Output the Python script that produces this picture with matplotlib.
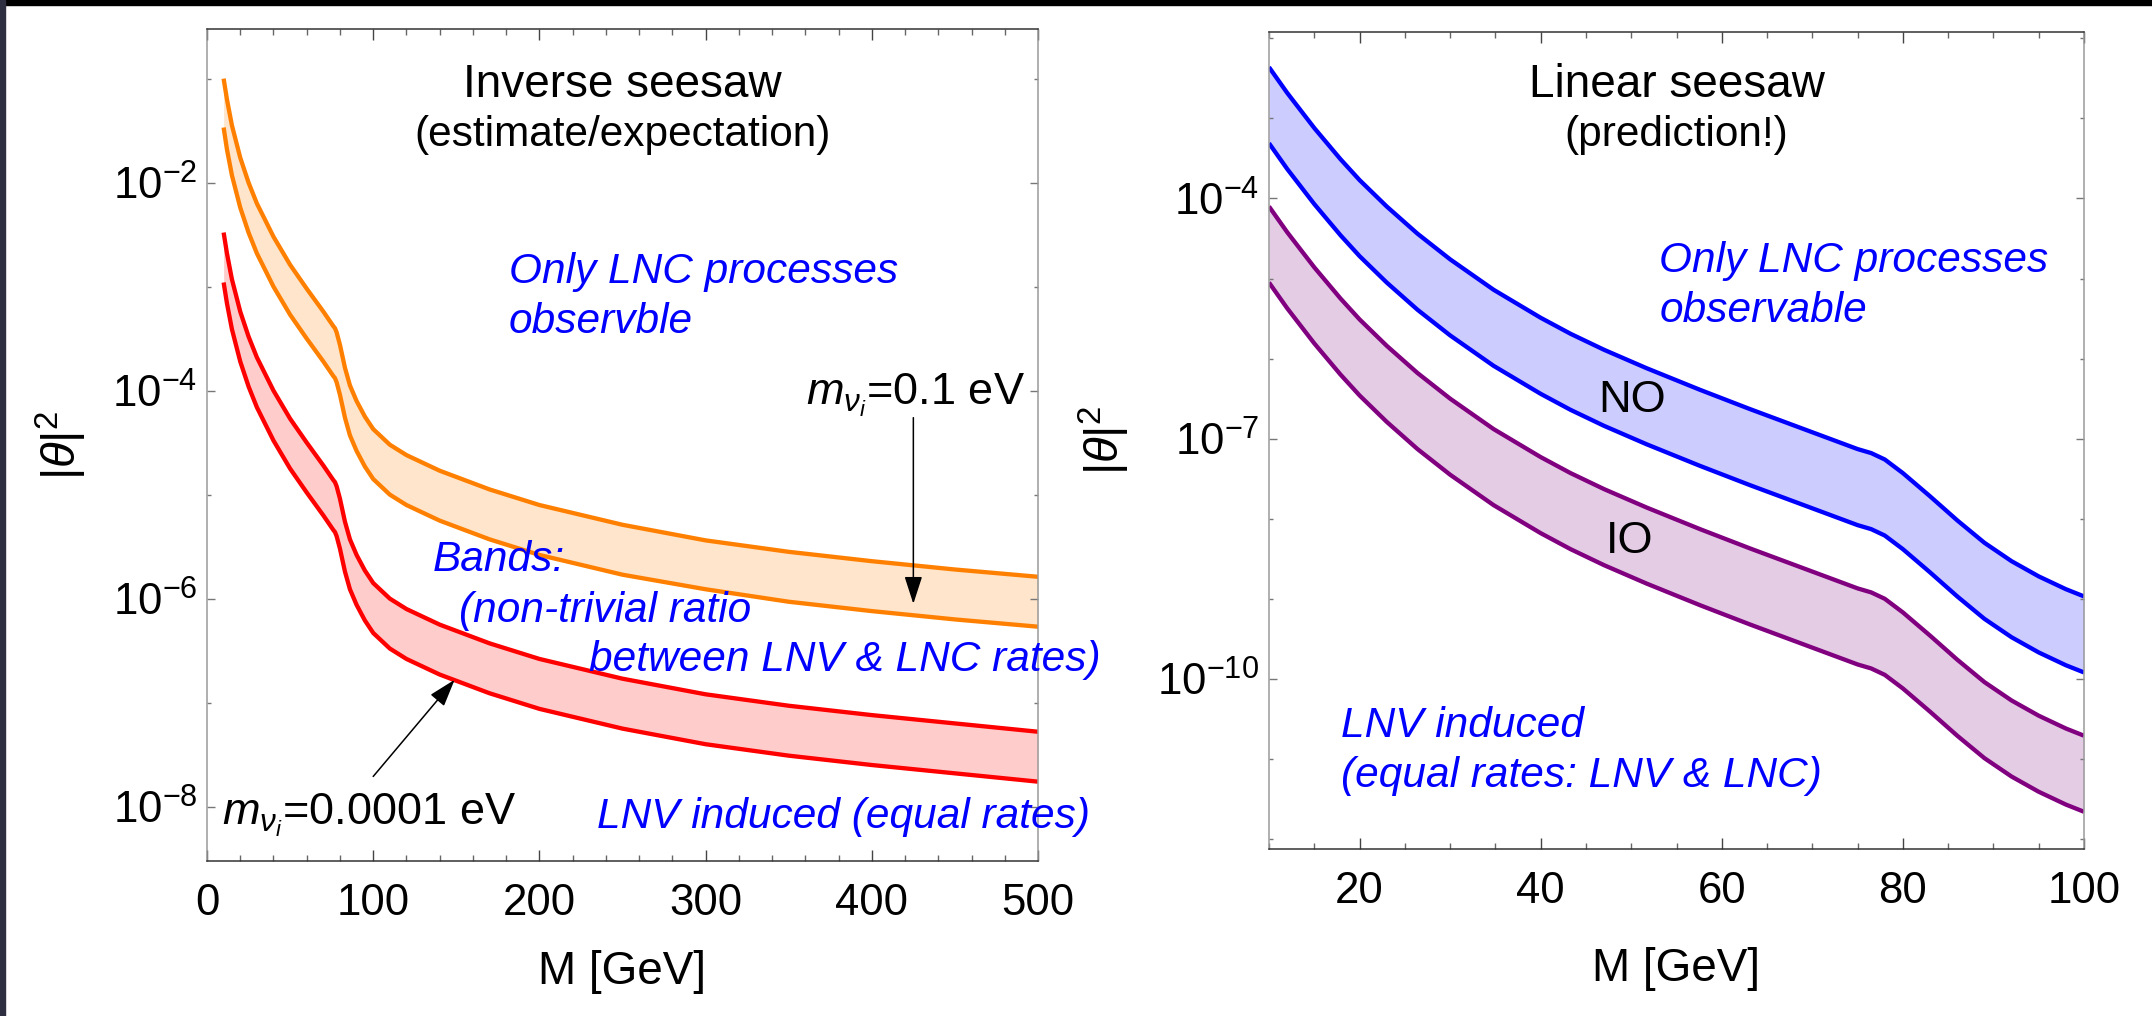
import numpy as np
import matplotlib
matplotlib.use('Agg')
import matplotlib.pyplot as plt
from matplotlib.ticker import FixedLocator, FuncFormatter, NullFormatter, MultipleLocator
from matplotlib.patches import Rectangle

plt.rcParams['font.family'] = ['Liberation Sans', 'DejaVu Sans']
plt.rcParams['mathtext.fontset'] = 'custom'
plt.rcParams['mathtext.rm'] = 'Liberation Sans'
plt.rcParams['mathtext.it'] = 'Liberation Sans:italic'
plt.rcParams['mathtext.bf'] = 'Liberation Sans:bold'

# ---- inverse seesaw: heavy neutrino mass [GeV] and log10|theta|^2 of band edges
M_inv = [10, 12, 15, 20, 25, 30, 40, 50, 60, 70, 76, 77, 78, 80, 83, 86, 90, 95,
         100, 110, 120, 140, 170, 200, 250, 300, 350, 400, 450, 500]
orange_hi = [-1.00, -1.20, -1.45, -1.76, -2.00, -2.20, -2.52, -2.79, -3.02, -3.24,
             -3.38, -3.40, -3.44, -3.56, -3.78, -3.95, -4.10, -4.25, -4.37, -4.52,
             -4.62, -4.77, -4.95, -5.10, -5.29, -5.44, -5.55, -5.64, -5.72, -5.79]
orange_lo = [-1.47, -1.68, -1.93, -2.24, -2.48, -2.68, -3.00, -3.27, -3.50, -3.72,
             -3.86, -3.88, -3.92, -4.04, -4.26, -4.43, -4.58, -4.73, -4.85, -5.00,
             -5.10, -5.25, -5.43, -5.58, -5.77, -5.91, -6.03, -6.12, -6.20, -6.27]
red_hi = [-2.48, -2.68, -2.93, -3.24, -3.48, -3.68, -4.00, -4.27, -4.50, -4.72,
          -4.86, -4.88, -4.92, -5.04, -5.26, -5.43, -5.58, -5.73, -5.85, -6.00,
          -6.10, -6.25, -6.43, -6.58, -6.77, -6.92, -7.03, -7.12, -7.20, -7.28]
red_lo = [-2.96, -3.16, -3.41, -3.72, -3.96, -4.16, -4.48, -4.75, -4.98, -5.20,
          -5.34, -5.36, -5.40, -5.52, -5.74, -5.91, -6.06, -6.21, -6.33, -6.48,
          -6.58, -6.73, -6.91, -7.06, -7.25, -7.40, -7.51, -7.60, -7.68, -7.76]

# ---- linear seesaw: normal (NO) and inverted (IO) ordering bands
M_lin = [10, 12, 15, 17.9, 20, 23, 26.4, 30, 34.8, 40, 43.3, 47, 51.7, 57.6, 63.1,
         70, 75, 76.5, 78, 80, 83, 86, 89, 92, 95, 98, 100]
no_hi = [-2.36, -2.68, -3.12, -3.51, -3.77, -4.10, -4.44, -4.76, -5.14, -5.49,
         -5.69, -5.89, -6.12, -6.39, -6.63, -6.92, -7.13, -7.18, -7.26, -7.43,
         -7.72, -8.02, -8.30, -8.53, -8.72, -8.88, -8.97]
no_lo = [-3.31, -3.63, -4.07, -4.46, -4.72, -5.05, -5.39, -5.71, -6.09, -6.44,
         -6.64, -6.84, -7.07, -7.34, -7.58, -7.87, -8.08, -8.13, -8.21, -8.38,
         -8.67, -8.97, -9.25, -9.48, -9.67, -9.83, -9.92]
io_hi = [-4.10, -4.42, -4.86, -5.25, -5.51, -5.84, -6.18, -6.50, -6.88, -7.23,
         -7.43, -7.63, -7.86, -8.13, -8.37, -8.66, -8.87, -8.92, -9.00, -9.17,
         -9.46, -9.76, -10.04, -10.27, -10.46, -10.62, -10.71]
io_lo = [-5.05, -5.37, -5.81, -6.20, -6.46, -6.79, -7.13, -7.45, -7.83, -8.18,
         -8.38, -8.58, -8.81, -9.08, -9.32, -9.61, -9.82, -9.87, -9.95, -10.12,
         -10.41, -10.71, -10.99, -11.22, -11.41, -11.57, -11.66]

W, H = 2152, 1016
fig = plt.figure(figsize=(W / 100, H / 100), dpi=100)
fig.patch.set_facecolor('white')


def px_axes(x0, top, x1, bottom):
    return fig.add_axes([x0 / W, 1 - bottom / H, (x1 - x0) / W, (bottom - top) / H])


def band(ax, m, hi, lo, color):
    m = np.asarray(m)
    hi = np.power(10.0, hi)
    lo = np.power(10.0, lo)
    ax.fill_between(m, lo, hi, color=color, alpha=0.2, lw=0)
    for y in (hi, lo):
        ax.plot(m, y, color=color, lw=3.1, solid_capstyle='butt', solid_joinstyle='round')


def frame(ax, major_y, minor_y):
    ax.set_yscale('log')
    ax.yaxis.set_major_locator(FixedLocator(major_y))
    ax.yaxis.set_minor_locator(FixedLocator(minor_y))
    ax.yaxis.set_major_formatter(FuncFormatter(lambda v, p: r'$10^{%d}$' % round(np.log10(v))))
    ax.yaxis.set_minor_formatter(NullFormatter())
    for s in ('top', 'bottom'):
        ax.spines[s].set_color('#333333')
        ax.spines[s].set_linewidth(1.1)
    for s in ('left', 'right'):
        ax.spines[s].set_color('#9a9a9a')
        ax.spines[s].set_linewidth(1.1)
    ax.tick_params(which='both', direction='in', top=True, right=True, width=1.0)
    ax.tick_params(axis='x', which='major', length=8, color='#444444', pad=16, labelsize=31.5)
    ax.tick_params(axis='x', which='minor', length=4.5, color='#666666')
    ax.tick_params(axis='y', which='major', length=6, color='#777777', pad=7, labelsize=31.5)
    ax.tick_params(axis='y', which='minor', length=3, color='#777777')


def put(ax, x, y, s, size=30.5, color='blue', style='italic', ha='left'):
    ax.text(x, y, s, transform=ax.transAxes, fontsize=size, color=color,
            style=style, ha=ha, va='baseline')


# ---------- left panel: inverse seesaw
ax1 = px_axes(207, 29, 1038, 861)
band(ax1, M_inv, orange_hi, orange_lo, '#ff8000')
band(ax1, M_inv, red_hi, red_lo, '#ff0000')
frame(ax1, [1e-2, 1e-4, 1e-6, 1e-8], [1e-1, 1e-3, 1e-5, 1e-7])
ax1.set_xlim(0, 500)
ax1.set_ylim(3e-9, 0.3)
ax1.xaxis.set_major_locator(MultipleLocator(100))
ax1.xaxis.set_minor_locator(MultipleLocator(20))
ax1.set_xlabel('M [GeV]', fontsize=33, va='top')
ax1.xaxis.set_label_coords(0.5, -0.107)
ax1.set_ylabel(r'$|\theta|^2$', fontsize=34)
ax1.yaxis.set_label_coords(-0.142, 0.5)

put(ax1, 0.5, 0.918, 'Inverse seesaw', size=33, color='black', style='normal', ha='center')
put(ax1, 0.5, 0.859, '(estimate/expectation)', color='black', style='normal', ha='center')
put(ax1, 0.363, 0.695, 'Only LNC processes')
put(ax1, 0.363, 0.635, 'observble')
put(ax1, 0.272, 0.349, 'Bands:')
put(ax1, 0.303, 0.287, '(non-trivial ratio')
put(ax1, 0.460, 0.228, 'between LNV & LNC rates)')
put(ax1, 1.063, 0.040, 'LNV induced (equal rates)', ha='right')
put(ax1, 0.984, 0.548, r'$m_{\nu_i}$=0.1 eV', size=32.5, color='black', style='normal', ha='right')
put(ax1, 0.018, 0.044, r'$m_{\nu_i}$=0.0001 eV', size=32.5, color='black', style='normal')

arrow = dict(arrowstyle='-|>,head_length=1.7,head_width=0.55', color='black', lw=1.1,
             shrinkA=0, shrinkB=0, mutation_scale=10)
ax1.annotate('', xy=(425, 10 ** -6.05), xytext=(425, 10 ** -4.26), arrowprops=arrow)
ax1.annotate('', xy=(149, 10 ** -6.78), xytext=(100, 10 ** -7.71), arrowprops=arrow)

# ---------- right panel: linear seesaw
ax2 = px_axes(1269, 32, 2084, 849)
band(ax2, M_lin, no_hi, no_lo, '#0000ff')
band(ax2, M_lin, io_hi, io_lo, '#800080')
frame(ax2, [1e-4, 1e-7, 1e-10],
      [1e-2, 1e-3, 1e-5, 1e-6, 1e-8, 1e-9, 1e-11, 1e-12])
ax2.set_xlim(10, 100)
ax2.set_ylim(7.5e-13, 1.2e-2)
ax2.xaxis.set_major_locator(MultipleLocator(20))
ax2.xaxis.set_minor_locator(MultipleLocator(5))
ax2.set_xlabel('M [GeV]', fontsize=33, va='top')
ax2.xaxis.set_label_coords(0.5, -0.120)
ax2.set_ylabel(r'$|\theta|^2$', fontsize=34)
ax2.yaxis.set_label_coords(-0.168, 0.5)

put(ax2, 0.5, 0.920, 'Linear seesaw', size=33, color='black', style='normal', ha='center')
put(ax2, 0.5, 0.860, '(prediction!)', color='black', style='normal', ha='center')
put(ax2, 0.479, 0.706, 'Only LNC processes')
put(ax2, 0.479, 0.645, 'observable')
put(ax2, 0.445, 0.535, 'NO', size=32.5, color='black', style='normal', ha='center')
put(ax2, 0.443, 0.362, 'IO', size=32.5, color='black', style='normal', ha='center')
put(ax2, 0.088, 0.137, 'LNV induced')
put(ax2, 0.088, 0.076, '(equal rates: LNV & LNC)')

# dark edges of the frame
fig.patches.append(Rectangle((0, 1 - 5 / H), 1, 5 / H, transform=fig.transFigure,
                             color='black', zorder=10))
fig.patches.append(Rectangle((0, 0), 5 / W, 1, transform=fig.transFigure,
                             color='#2e3042', zorder=10))

fig.savefig('out.png', dpi=100)
